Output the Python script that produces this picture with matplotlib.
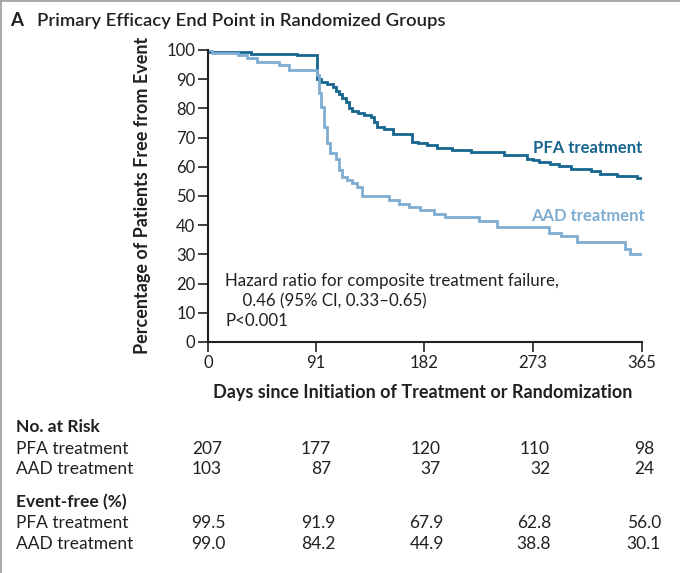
import matplotlib
matplotlib.use("Agg")
import matplotlib.pyplot as plt
from matplotlib.lines import Line2D

plt.rcParams['font.family'] = ['Lato', 'DejaVu Sans']

# Kaplan-Meier step points (day, percent event-free)
pfa_days = [0, 2, 36, 75, 92, 95, 100, 105, 108, 110, 113, 116, 118.5, 121, 126, 131,
            136.7, 140, 142, 148, 156, 171.5, 177, 184, 193, 205, 221, 249, 268, 273,
            278, 288, 295, 305, 322, 330, 344, 361, 365]
pfa_vals = [100, 99.3, 98.8, 98.2, 90.0, 89.2, 88.5, 87.2, 86.0, 84.8, 83.5, 82.2, 80.3,
            79.0, 78.3, 77.6, 76.9, 75.5, 73.7, 72.8, 71.2, 68.6, 68.0, 67.4, 66.5, 65.9,
            65.1, 64.2, 62.8, 62.2, 61.6, 60.9, 60.2, 59.4, 58.6, 57.7, 56.9, 56.0, 56.0]

aad_days = [0, 3, 25, 33, 41.5, 60, 68, 92, 93, 94.7, 97.5, 99.7, 103, 107.3, 110, 113,
            117, 121, 125, 129.5, 152, 160.5, 169, 178.7, 190, 199, 228, 243, 287, 297,
            310, 351, 354.6, 365]
aad_vals = [100, 99.0, 98.2, 97.1, 95.9, 94.8, 93.1, 91.5, 85.2, 80.6, 73.8, 68.0, 64.6,
            62.8, 58.9, 56.6, 55.4, 54.3, 53.2, 49.9, 48.6, 47.4, 46.3, 45.2, 44.0, 42.7,
            41.5, 39.3, 37.5, 36.2, 34.3, 32.0, 30.2, 30.2]

x_ticks = [0, 91, 182, 273, 365]
y_ticks = list(range(0, 101, 10))

groups = ['PFA treatment', 'AAD treatment']
at_risk_pfa = ['207', '177', '120', '110', '98']
at_risk_aad = ['103', '87', '37', '32', '24']
event_free_pfa = ['99.5', '91.9', '67.9', '62.8', '56.0']
event_free_aad = ['99.0', '84.2', '44.9', '38.8', '30.1']

pfa_color = '#17668f'
aad_color = '#7fadd1'
ink = '#231f20'

W, H = 680, 573
fig = plt.figure(figsize=(W / 100, H / 100), dpi=100)
ax = fig.add_axes([208 / W, 1 - 342 / H, 434 / W, 292 / H])

ax.step(pfa_days, pfa_vals, where='post', color=pfa_color, lw=2.0, solid_joinstyle='miter')
ax.step(aad_days, aad_vals, where='post', color=aad_color, lw=2.0, solid_joinstyle='miter')

ax.set_xlim(0, 365)
ax.set_ylim(0, 100)
ax.set_xticks(x_ticks)
ax.set_yticks(y_ticks)
ax.tick_params(direction='out', length=7, width=1.2, colors=ink, labelsize=12, pad=2)
for side in ['top', 'right']:
    ax.spines[side].set_visible(False)
for side in ['left', 'bottom']:
    ax.spines[side].set_linewidth(1.5)
    ax.spines[side].set_color(ink)

ax.set_ylabel('Percentage of Patients Free from Event', fontsize=13, fontweight='bold', color=ink)
ax.yaxis.set_label_coords(-0.131, 0.503)
ax.set_xlabel('Days since Initiation of Treatment or Randomization', fontsize=13,
              fontweight='bold', color=ink)
ax.xaxis.set_label_coords(0.495, -0.145)

ax.text(365, 66.4, 'PFA treatment', color=pfa_color, fontsize=12, fontweight='bold',
        ha='right', va='center')
ax.text(367.5, 43.1, 'AAD treatment', color=aad_color, fontsize=12, fontweight='bold',
        ha='right', va='center')

ax.text(14.5, 20.9, 'Hazard ratio for composite treatment failure,', fontsize=12.2,
        color=ink, va='center')
ax.text(14.5, 14.0, '    0.46 (95% CI, 0.33\u20130.65)', fontsize=12.2, color=ink, va='center')
ax.text(14.5, 7.2, 'P<0.001', fontsize=12.2, color=ink, va='center')

# title
fig.text(10 / W, 1 - 21 / H, 'A', fontsize=13.5, fontweight='bold', color=ink, va='center')
fig.text(37 / W, 1 - 21 / H, 'Primary Efficacy End Point in Randomized Groups', fontsize=13.3,
         fontweight='semibold', color=ink, va='center')

# risk table
left = 16 / W
risk_cols = [222, 331, 441, 550, 654]
ef_cols = [226, 335, 444, 551, 661]
fs = 12.5
fig.text(left, 1 - 427 / H, 'No. at Risk', fontsize=fs, fontweight='bold', color=ink, va='center')
fig.text(left, 1 - 502 / H, 'Event-free (%)', fontsize=fs, fontweight='bold', color=ink, va='center')
for row_y, name, vals, cols in [(449, groups[0], at_risk_pfa, risk_cols),
                                (469, groups[1], at_risk_aad, risk_cols),
                                (523, groups[0], event_free_pfa, ef_cols),
                                (544, groups[1], event_free_aad, ef_cols)]:
    fig.text(left, 1 - row_y / H, name, fontsize=fs, color=ink, va='center')
    for cx, v in zip(cols, vals):
        fig.text(cx / W, 1 - row_y / H, v, fontsize=fs, color=ink, va='center', ha='right')

# thin frame on top and left edge
fig.add_artist(Line2D([0, 1], [1 - 0.5 / H, 1 - 0.5 / H], transform=fig.transFigure,
                      color='#9a9a9a', lw=1.2))
fig.add_artist(Line2D([0.5 / W, 0.5 / W], [0, 1], transform=fig.transFigure,
                      color='#9a9a9a', lw=1.2))

fig.savefig('out.png', dpi=100)
